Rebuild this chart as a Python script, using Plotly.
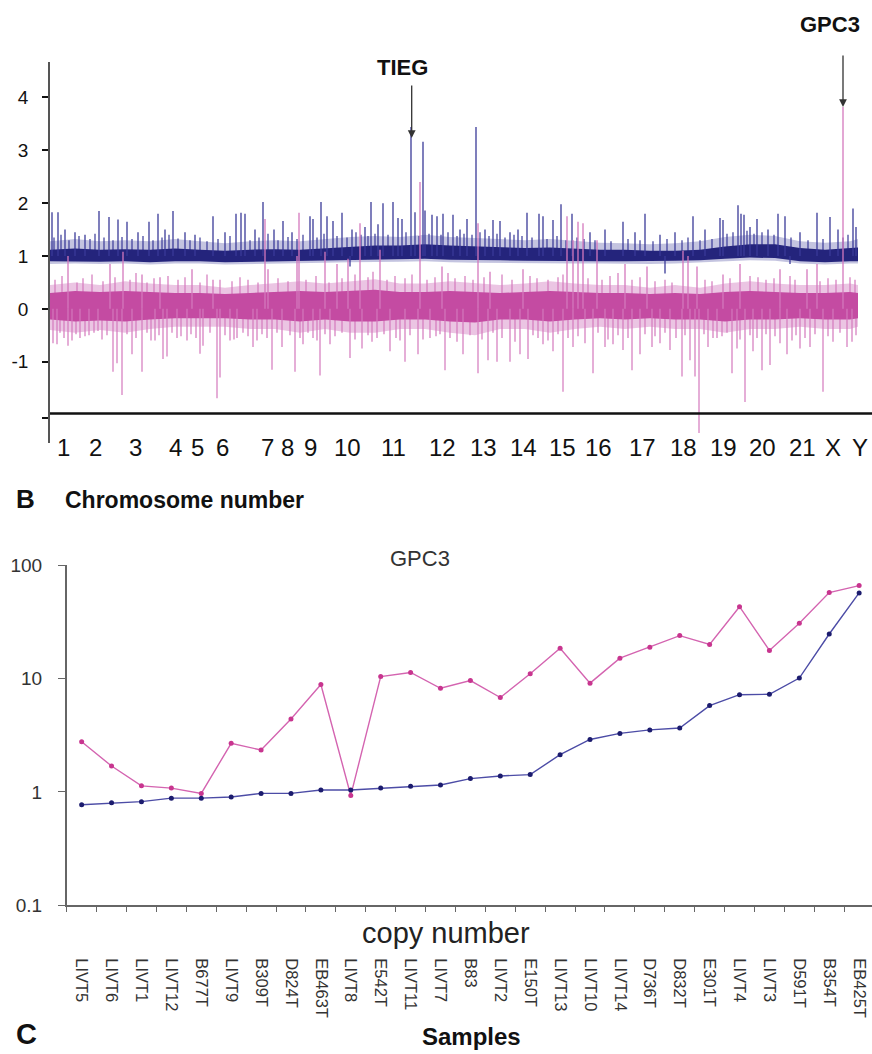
import plotly.graph_objects as go

# ---------------- Panel B : array-CGH profile (genome position units) ----------------
chrom_labels = ["1", "2", "3", "4", "5", "6", "7", "8", "9", "10", "11", "12", "13",
                "14", "15", "16", "17", "18", "19", "20", "21", "X", "Y"]
chrom_pos = [13, 45, 85, 125, 147, 172, 217, 237, 260, 297, 343, 392, 433,
             473, 512, 548, 592, 633, 673, 712, 752, 783, 810]

env_x = [0, 25, 50, 75, 100, 125, 150, 175, 200, 225, 250, 275, 300, 325, 350, 375, 400,
         425, 450, 475, 500, 525, 550, 575, 600, 625, 650, 675, 700, 725, 750, 775, 800, 808]

blue_inner_hi = [1.12, 1.14, 1.12, 1.13, 1.12, 1.14, 1.12, 1.10, 1.12, 1.13, 1.12, 1.15, 1.18,
                 1.20, 1.20, 1.22, 1.20, 1.18, 1.16, 1.15, 1.16, 1.14, 1.12, 1.12, 1.10, 1.10,
                 1.12, 1.18, 1.22, 1.22, 1.15, 1.12, 1.14, 1.16]
blue_inner_lo = [0.90, 0.90, 0.89, 0.90, 0.88, 0.90, 0.90, 0.88, 0.88, 0.90, 0.90, 0.92, 0.93,
                 0.94, 0.94, 0.95, 0.93, 0.92, 0.92, 0.91, 0.90, 0.90, 0.90, 0.90, 0.90, 0.91,
                 0.92, 0.95, 0.97, 0.96, 0.90, 0.88, 0.90, 0.90]
blue_outer_hi = [1.28, 1.32, 1.28, 1.30, 1.28, 1.32, 1.28, 1.24, 1.28, 1.30, 1.28, 1.32, 1.36,
                 1.38, 1.36, 1.40, 1.36, 1.34, 1.32, 1.30, 1.32, 1.28, 1.25, 1.24, 1.22, 1.24,
                 1.28, 1.36, 1.40, 1.38, 1.28, 1.25, 1.28, 1.32]
blue_outer_lo = [0.85, 0.86, 0.85, 0.86, 0.84, 0.86, 0.86, 0.84, 0.84, 0.86, 0.86, 0.87, 0.88,
                 0.89, 0.89, 0.90, 0.88, 0.87, 0.87, 0.86, 0.86, 0.86, 0.86, 0.86, 0.85, 0.86,
                 0.87, 0.90, 0.92, 0.91, 0.86, 0.84, 0.86, 0.86]

pink_inner_hi = [0.30, 0.34, 0.32, 0.34, 0.32, 0.30, 0.30, 0.28, 0.30, 0.32, 0.34, 0.32, 0.34,
                 0.36, 0.32, 0.32, 0.34, 0.32, 0.30, 0.32, 0.34, 0.32, 0.30, 0.30, 0.28, 0.30,
                 0.28, 0.32, 0.34, 0.32, 0.30, 0.30, 0.32, 0.30]
pink_inner_lo = [-0.20, -0.24, -0.22, -0.24, -0.20, -0.18, -0.18, -0.18, -0.20, -0.20, -0.24,
                 -0.20, -0.24, -0.24, -0.20, -0.20, -0.24, -0.26, -0.20, -0.20, -0.24, -0.20,
                 -0.18, -0.20, -0.18, -0.20, -0.20, -0.24, -0.20, -0.20, -0.18, -0.20, -0.20, -0.18]
pink_outer_hi = [0.45, 0.50, 0.45, 0.52, 0.48, 0.45, 0.45, 0.40, 0.45, 0.48, 0.52, 0.48, 0.52,
                 0.56, 0.48, 0.48, 0.52, 0.48, 0.45, 0.48, 0.52, 0.48, 0.45, 0.45, 0.40, 0.45,
                 0.40, 0.48, 0.52, 0.48, 0.45, 0.45, 0.48, 0.45]
pink_outer_lo = [-0.40, -0.45, -0.40, -0.45, -0.38, -0.34, -0.34, -0.34, -0.38, -0.38, -0.45,
                 -0.38, -0.45, -0.45, -0.38, -0.38, -0.45, -0.50, -0.38, -0.38, -0.45, -0.38,
                 -0.34, -0.38, -0.34, -0.38, -0.38, -0.45, -0.38, -0.38, -0.34, -0.38, -0.38, -0.34]

blue_spike_pos = [2, 8, 15, 25, 35, 49, 59, 68, 77, 88, 99, 108, 115, 123, 135, 145, 163, 175,
                  186, 191, 195, 205, 213, 224, 233, 242, 260, 263, 271, 277, 283, 292, 302,
                  315, 321, 328, 333, 343, 348, 352, 361, 365, 373, 375, 382, 387, 393, 403,
                  410, 417, 426, 435, 443, 450, 460, 468, 477, 489, 493, 503, 511, 522, 540,
                  555, 573, 585, 595, 610, 625, 643, 655, 670, 673, 688, 691, 694, 700, 707,
                  718, 728, 735, 750, 767, 780, 788, 803, 806]
blue_spike_top = [1.83, 1.83, 1.50, 1.45, 1.40, 1.85, 1.74, 1.69, 1.65, 1.45, 1.65, 1.80, 1.50,
                  1.85, 1.45, 1.40, 1.75, 1.45, 1.80, 1.82, 1.80, 1.50, 2.02, 1.50, 1.66, 1.45,
                  1.75, 1.70, 2.02, 1.75, 1.66, 1.82, 1.50, 1.55, 2.02, 1.60, 2.00, 2.02, 1.72,
                  1.70, 3.44, 1.83, 3.16, 1.86, 1.78, 1.75, 1.80, 1.78, 1.50, 1.70, 3.44, 1.50,
                  1.68, 1.66, 1.45, 1.50, 1.82, 1.80, 1.75, 1.68, 1.98, 1.80, 1.45, 1.50, 1.65,
                  1.45, 1.80, 1.40, 1.45, 1.75, 1.50, 1.72, 1.68, 1.96, 1.80, 1.78, 1.55, 1.70,
                  1.50, 1.80, 1.75, 1.45, 1.82, 1.74, 1.50, 1.90, 1.55]
blue_short_pos = [4, 11, 19, 29, 40, 45, 54, 63, 72, 82, 93, 103, 112, 119, 128, 140, 150, 157,
                  168, 180, 200, 209, 218, 228, 238, 247, 253, 267, 274, 287, 297, 306, 311,
                  318, 325, 338, 356, 369, 379, 391, 398, 407, 414, 422, 430, 439, 447, 455,
                  464, 472, 482, 497, 507, 516, 527, 534, 545, 561, 578, 590, 603, 617, 632,
                  638, 650, 662, 677, 683, 697, 704, 712, 724, 741, 758, 773, 793, 798]
blue_short_top = [1.35, 1.40, 1.30, 1.38, 1.32, 1.42, 1.35, 1.30, 1.36, 1.32, 1.38, 1.30, 1.35,
                  1.40, 1.33, 1.30, 1.35, 1.28, 1.32, 1.38, 1.30, 1.35, 1.42, 1.30, 1.36, 1.32,
                  1.40, 1.35, 1.42, 1.38, 1.35, 1.45, 1.40, 1.38, 1.42, 1.40, 1.45, 1.38, 1.42,
                  1.40, 1.45, 1.38, 1.42, 1.40, 1.45, 1.38, 1.42, 1.35, 1.40, 1.38, 1.35, 1.32,
                  1.38, 1.30, 1.35, 1.32, 1.30, 1.28, 1.32, 1.30, 1.28, 1.32, 1.30, 1.35, 1.30,
                  1.32, 1.42, 1.45, 1.48, 1.42, 1.45, 1.40, 1.35, 1.30, 1.32, 1.35, 1.40]
blue_dip_pos = [300, 615, 740]
blue_dip_tip = [0.80, 0.67, 0.85]

pink_down_pos = [3, 7, 18, 22, 30, 39, 48, 63, 67, 72, 82, 92, 105, 113, 117, 127, 137, 150,
                 153, 167, 170, 180, 187, 203, 207, 222, 232, 245, 253, 263, 270, 280, 300,
                 312, 327, 340, 355, 368, 380, 395, 407, 413, 428, 438, 447, 460, 470, 478,
                 493, 503, 513, 523, 535, 543, 555, 563, 573, 582, 590, 602, 610, 620, 632,
                 640, 645, 649, 658, 667, 682, 687, 695, 703, 712, 720, 730, 737, 750, 760,
                 773, 783, 797, 802]
pink_down_tip = [-0.65, -0.67, -0.70, -0.60, -0.55, -0.50, -0.42, -1.19, -1.03, -1.63, -0.86,
                 -1.19, -0.60, -0.95, -0.90, -0.55, -0.60, -0.85, -0.70, -1.69, -1.30, -0.60,
                 -0.55, -0.72, -0.60, -1.15, -0.72, -1.19, -0.67, -0.55, -1.26, -0.67, -0.93,
                 -0.75, -0.55, -0.80, -1.00, -0.86, -0.55, -1.16, -0.62, -0.86, -1.22, -0.97,
                 -1.00, -1.00, -0.86, -0.95, -0.67, -0.80, -1.57, -0.72, -0.65, -1.22, -0.72,
                 -0.67, -0.78, -1.16, -0.86, -0.72, -0.65, -0.78, -1.28, -0.97, -1.28, -2.35,
                 -0.72, -0.55, -1.22, -0.75, -1.76, -0.80, -1.16, -1.06, -0.65, -0.86, -0.75,
                 -0.72, -1.57, -0.62, -0.72, -0.62]
pink_short_down_pos = [10, 14, 26, 35, 44, 52, 57, 77, 86, 97, 101, 109, 122, 131, 141, 146,
                       160, 175, 184, 193, 198, 212, 217, 227, 240, 250, 258, 267, 275, 285,
                       292, 305, 318, 322, 334, 346, 350, 360, 373, 386, 390, 400, 420, 432,
                       443, 452, 465, 483, 488, 498, 508, 518, 528, 548, 558, 568, 578, 595,
                       605, 615, 626, 635, 654, 663, 672, 677, 690, 700, 707, 716, 725, 742,
                       746, 755, 765, 778, 790, 806]
pink_short_down_tip = [-0.45, -0.55, -0.48, -0.52, -0.45, -0.58, -0.50, -0.48, -0.55, -0.45,
                       -0.60, -0.50, -0.45, -0.52, -0.48, -0.55, -0.45, -0.50, -0.58, -0.45,
                       -0.52, -0.48, -0.55, -0.45, -0.50, -0.55, -0.45, -0.60, -0.48, -0.52,
                       -0.45, -0.58, -0.50, -0.62, -0.48, -0.55, -0.60, -0.50, -0.58, -0.52,
                       -0.48, -0.55, -0.50, -0.58, -0.45, -0.55, -0.62, -0.50, -0.55, -0.60,
                       -0.48, -0.55, -0.52, -0.45, -0.58, -0.50, -0.55, -0.48, -0.52, -0.45,
                       -0.55, -0.50, -0.48, -0.55, -0.52, -0.45, -0.58, -0.50, -0.55, -0.48,
                       -0.52, -0.60, -0.50, -0.55, -0.48, -0.52, -0.45, -0.50]

pink_up_pos = [18, 60, 73, 92, 110, 142, 163, 215, 218, 247, 249, 275, 287, 298, 310, 330,
               370, 392, 428, 440, 473, 517, 523, 528, 533, 547, 575, 597, 633, 638, 647,
               673, 690, 730, 757, 767, 793]
pink_up_tip = [1.00, 0.85, 1.08, 0.65, 0.60, 0.75, 0.55, 1.70, 0.75, 1.00, 1.82, 1.08, 0.85,
               0.95, 1.62, 1.12, 2.40, 0.80, 1.62, 0.70, 0.75, 1.75, 1.30, 1.65, 1.62, 1.30,
               0.85, 0.80, 1.10, 1.00, 0.80, 0.65, 0.85, 0.75, 0.75, 0.85, 3.82]
pink_short_up_pos = [5, 12, 27, 33, 42, 53, 65, 80, 86, 97, 104, 118, 128, 135, 150, 157, 170,
                     182, 190, 198, 208, 228, 238, 256, 266, 279, 292, 305, 318, 323, 337, 345,
                     355, 362, 377, 385, 398, 405, 415, 423, 434, 452, 462, 480, 487, 498, 508,
                     513, 538, 552, 560, 568, 582, 590, 605, 615, 622, 655, 662, 680, 700, 708,
                     716, 724, 740, 745, 770, 778, 786, 800, 805]
pink_short_up_tip = [0.55, 0.62, 0.50, 0.58, 0.65, 0.52, 0.60, 0.55, 0.68, 0.50, 0.58, 0.62,
                     0.55, 0.60, 0.50, 0.65, 0.55, 0.52, 0.60, 0.55, 0.50, 0.58, 0.52, 0.55,
                     0.62, 0.50, 0.58, 0.65, 0.60, 0.70, 0.55, 0.62, 0.58, 0.65, 0.55, 0.60,
                     0.68, 0.58, 0.62, 0.55, 0.60, 0.65, 0.55, 0.62, 0.58, 0.55, 0.60, 0.65,
                     0.58, 0.55, 0.62, 0.68, 0.55, 0.60, 0.52, 0.55, 0.50, 0.55, 0.52, 0.58,
                     0.62, 0.60, 0.55, 0.58, 0.62, 0.55, 0.52, 0.58, 0.55, 0.60, 0.55]

ytick_vals = [-2.07, -1, 0, 1, 2, 3, 4]
ytick_text = ["", "-1", "0", "1", "2", "3", "4"]

# ---------------- Panel C : GPC3 copy number per sample ----------------
samples = ["LIVT5", "LIVT6", "LIVT1", "LIVT12", "B677T", "LIVT9", "B309T", "D824T", "EB463T",
           "LIVT8", "E542T", "LIVT11", "LIVT7", "B83", "LIVT2", "E150T", "LIVT13", "LIVT10",
           "LIVT14", "D736T", "D832T", "E301T", "LIVT4", "LIVT3", "D591T", "B354T", "EB425T"]
pink_cn = [2.77, 1.69, 1.13, 1.08, 0.97, 2.68, 2.34, 4.4, 8.85, 0.93, 10.4, 11.3, 8.2, 9.6,
           6.8, 11.0, 18.5, 9.1, 15.1, 18.9, 23.9, 20.0, 43.0, 17.7, 30.7, 57.3, 66.0]
blue_cn = [0.77, 0.80, 0.82, 0.88, 0.88, 0.90, 0.97, 0.97, 1.04, 1.04, 1.08, 1.12, 1.15, 1.31,
           1.38, 1.42, 2.13, 2.90, 3.28, 3.52, 3.66, 5.77, 7.2, 7.26, 10.1, 24.7, 56.9]
cn_tick_vals = [0.1, 1, 10, 100]
cn_tick_text = ["0.1", "1", "10", "100"]


# ---------------- helpers ----------------
def band(x, hi, lo):
    return list(x) + list(x)[::-1], list(hi) + list(lo)[::-1]


def spikes(pos, tips, base):
    xs, ys = [], []
    for p, t in zip(pos, tips):
        xs += [p, p, None]
        ys += [base, t, None]
    return xs, ys


BLUE_BAND = "#24247c"
BLUE_SPK = "#3a3a98"
PINK_BAND = "#c44ba2"
PINK_SPK = "#d478bd"

fig = go.Figure()


def add_band(x, hi, lo, color):
    bx, by = band(x, hi, lo)
    fig.add_trace(go.Scatter(x=bx, y=by, fill="toself", fillcolor=color,
                             line=dict(width=0), mode="lines", hoverinfo="skip"))


def add_spikes(pos, tips, base, color, width=1.2):
    sx, sy = spikes(pos, tips, base)
    fig.add_trace(go.Scatter(x=sx, y=sy, mode="lines", line=dict(color=color, width=width),
                             hoverinfo="skip"))


# pink profile
add_band(env_x, pink_outer_hi, pink_outer_lo, "rgba(205,110,185,0.40)")
add_spikes(pink_short_down_pos, pink_short_down_tip, 0, PINK_SPK, 1.2)
add_spikes(pink_short_up_pos, pink_short_up_tip, 0, PINK_SPK, 1.2)
add_band(env_x, pink_inner_hi, pink_inner_lo, PINK_BAND)
add_spikes(pink_down_pos, pink_down_tip, 0, PINK_SPK, 1.2)

# blue profile
add_band(env_x, blue_outer_hi, blue_outer_lo, "rgba(70,70,160,0.32)")
add_spikes(blue_short_pos, blue_short_top, 1.0, BLUE_SPK, 1.2)
add_band(env_x, blue_inner_hi, blue_inner_lo, BLUE_BAND)
add_spikes(blue_spike_pos, blue_spike_top, 1.0, BLUE_SPK, 1.3)
add_spikes(blue_dip_pos, blue_dip_tip, 1.0, BLUE_SPK, 1.3)
add_spikes(pink_up_pos, pink_up_tip, 0, PINK_SPK, 1.3)

# panel C lines
fig.add_trace(go.Scatter(x=samples, y=pink_cn, mode="lines+markers", xaxis="x2", yaxis="y2",
                         line=dict(color="#d464b0", width=1.4),
                         marker=dict(color="#c8358f", size=5)))
fig.add_trace(go.Scatter(x=samples, y=blue_cn, mode="lines+markers", xaxis="x2", yaxis="y2",
                         line=dict(color="#4c4ca6", width=1.4),
                         marker=dict(color="#1c1c6e", size=5)))

FONT = "Liberation Sans, Arial, sans-serif"
FIG_W = 872
FIG_H = 1064
# the photographed page is shown with a slight vertical offset/scale; layout positions
# below are given in picture pixels and converted to page pixels here
V_OFF = 10.0
V_SCALE = 0.98


def page_y(pix):
    return (pix - V_OFF) / V_SCALE


def py(pix):
    return 1 - page_y(pix) / FIG_H


def px(pix):
    return pix / FIG_W


def label(x, y, text, size, color="#111", xanchor="center", xref="paper", yanchor="middle"):
    return dict(x=x, y=y, xref=xref, yref="paper", text=text, showarrow=False,
                xanchor=xanchor, yanchor=yanchor,
                font=dict(family=FONT, size=size, color=color))


annotations = [label(pos, py(447), lab, 24, xref="x")
               for lab, pos in zip(chrom_labels, chrom_pos)]

annotations += [
    label(px(402), py(67), "<b>TIEG</b>", 22),
    label(px(830), 1.0, "<b>GPC3</b>", 22, yanchor="top"),
    dict(x=361.7, y=3.23, xref="x", yref="y", text="", showarrow=True, ax=0,
         ay=-53 / V_SCALE, arrowhead=2, arrowsize=1.2, arrowwidth=1.3, arrowcolor="#333"),
    dict(x=793, y=3.82, xref="x", yref="y", text="", showarrow=True, ax=0,
         ay=-52 / V_SCALE, arrowhead=2, arrowsize=1.2, arrowwidth=1.3, arrowcolor="#333"),
    label(px(25), py(499), "<b>B</b>", 26),
    label(px(63), py(500), "<b>Chromosome number</b>", 23, xanchor="left"),
    label(px(420), py(558), "GPC3", 22, color="#333"),
    label(px(446), py(933), "copy number", 29, color="#222"),
    label(px(26), py(1034), "<b>C</b>", 29),
    label(px(471), py(1036), "<b>Samples</b>", 24),
]

fig.update_layout(
    width=FIG_W, height=FIG_H, margin=dict(l=0, r=0, t=0, b=0),
    paper_bgcolor="white", plot_bgcolor="white", showlegend=False,
    font=dict(family=FONT, color="#222"),
    xaxis=dict(domain=[px(50), 1], range=[0, 822], visible=False),
    yaxis=dict(domain=[py(443), py(62)], range=[-2.54, 4.67], showline=True,
               linecolor="#555", linewidth=1.5, ticks="outside", ticklen=6, tickwidth=2,
               tickcolor="#111", tickvals=ytick_vals, ticktext=ytick_text,
               tickfont=dict(family=FONT, size=19, color="#111"), ticklabelstandoff=10,
               showgrid=False, zeroline=False),
    xaxis2=dict(domain=[px(66.7), 1], anchor="y2", type="category",
                categoryorder="array", categoryarray=samples, range=[-0.5, 26.43],
                showline=True, linecolor="#666", linewidth=1.5, ticks="outside",
                tickson="boundaries", ticklen=5, tickcolor="#666", tickangle=90,
                tickfont=dict(family=FONT, size=16.5, color="#333"), ticklabelstandoff=48,
                showgrid=False, zeroline=False),
    yaxis2=dict(domain=[py(905), py(565)], anchor="x2", type="log", range=[-1, 2],
                tickvals=cn_tick_vals, ticktext=cn_tick_text, showline=True,
                linecolor="#666", linewidth=1.5, ticks="outside", ticklen=7,
                tickcolor="#666", tickfont=dict(family=FONT, size=19, color="#333"),
                ticklabelstandoff=12, showgrid=False, zeroline=False),
    shapes=[dict(type="line", xref="x domain", yref="y", x0=0, x1=1, y0=-1.98, y1=-1.98,
                 line=dict(color="#111", width=2.5))],
    annotations=annotations,
)

fig.write_html("out.html", config={"displayModeBar": False},
               post_script="document.documentElement.style.margin='0px';"
                           "document.body.style.margin='0px';"
                           "document.body.style.padding='0px';"
                           "document.body.style.overflow='hidden';")
